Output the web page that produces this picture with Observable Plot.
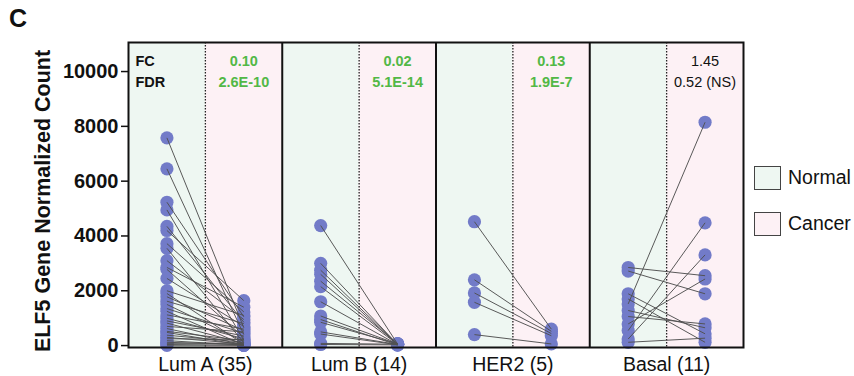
<!DOCTYPE html>
<html><head><meta charset="utf-8">
<script src="https://cdn.jsdelivr.net/npm/d3@7"></script>
<script src="https://cdn.jsdelivr.net/npm/@observablehq/plot@0.6"></script>
<style>
body{margin:0;background:#fff;font-family:"Liberation Sans",Arial,sans-serif;}
#wrap{position:relative;width:854px;height:376px;overflow:hidden}
#wrap svg{position:absolute;left:0;top:0}
#panel{position:absolute;left:9px;top:6px;font-size:25px;font-weight:bold;line-height:1;color:#111}
.lg{position:absolute;left:754px;width:25px;height:22px;border:1.4px solid #444}
.lt{position:absolute;left:788px;font-size:19.5px;line-height:1;color:#111}
</style></head><body>
<div id="wrap"></div>
<script>
// ---- data ----
const subtypes = ["Lum A", "Lum B", "HER2", "Basal"];
const conditions = ["Normal", "Cancer"];
const yTicks = [0, 2000, 4000, 6000, 8000, 10000];

const lumANormal = [7580, 6450, 5230, 4950, 4350, 4200, 3720, 3550, 3100, 2850, 2780, 2450, 2000, 1900, 1780, 1620, 1500, 1350, 1250, 1120, 1000, 900, 820, 700, 620, 520, 480, 380, 300, 250, 180, 120, 80, 40, 10];
const lumACancer = [650, 400, 1050, 200, 850, 1640, 1230, 100, 950, 1400, 300, 700, 1100, 50, 550, 800, 150, 450, 20, 600, 250, 350, 80, 500, 30, 180, 10, 120, 60, 220, 15, 40, 90, 5, 25];

const lumBNormal = [4380, 3000, 2750, 2600, 2350, 2150, 1600, 1080, 950, 850, 500, 420, 80, 40];
const lumBCancer = [60, 40, 50, 30, 70, 45, 35, 55, 20, 65, 40, 30, 50, 25];

const her2Normal = [4520, 2400, 1920, 1580, 400];
const her2Cancer = [600, 520, 440, 360, 60];

const basalNormal = [2850, 2720, 1890, 1700, 1520, 1280, 1060, 790, 550, 240, 120];
const basalCancer = [2550, 1890, 430, 120, 8150, 650, 790, 2430, 4480, 3310, 270];

const fcValues = ["0.10", "0.02", "0.13", "1.45"];
const fdrValues = ["2.6E-10", "5.1E-14", "1.9E-7", "0.52 (NS)"];
const significant = [true, true, true, false];

// ---- derived tables ----
const normals = [lumANormal, lumBNormal, her2Normal, basalNormal];
const cancers = [lumACancer, lumBCancer, her2Cancer, basalCancer];
const pairs = subtypes.flatMap((s, i) => normals[i].map((v, j) => ({s, i, normal: v, cancer: cancers[i][j]})));
const dots = [
  ...pairs.map(p => ({x: 2 * p.i, y: p.normal})),
  ...pairs.map(p => ({x: 2 * p.i + 1, y: p.cancer}))
];
const bg = subtypes.flatMap((s, i) => conditions.map((c, k) => ({x1: 2 * i + k - 0.5, x2: 2 * i + k + 0.5, c})));
const dividers = subtypes.map((s, i) => 2 * i + 0.5);
const boundaries = subtypes.slice(1).map((s, i) => 2 * (i + 1) - 0.5);
const centers = subtypes.map((s, i) => 2 * i + 0.5);
const stats = subtypes.map((s, i) => ({x: 2 * i + 1, fc: fcValues[i], fdr: fdrValues[i], sig: significant[i]}));
const green = "#52b846";
const font = "'Liberation Sans', Arial, sans-serif";

const chart = Plot.plot({
  width: 854, height: 376,
  marginLeft: 128, marginRight: 111, marginTop: 42, marginBottom: 29,
  x: {domain: [-0.5, 2 * subtypes.length - 0.5], axis: null},
  y: {domain: [-70, 11060], axis: null},
  color: {domain: conditions, range: ["#eef7f2", "#fdf1f5"]},
  style: {fontFamily: font, fontSize: "19px", color: "#111", background: "transparent", overflow: "visible"},
  marks: [
    Plot.rect(bg, {x1: "x1", x2: "x2", fill: "c"}),
    Plot.ruleX(dividers, {stroke: "#222", strokeWidth: 1.3, strokeDasharray: "1.5,1.5"}),
    Plot.ruleX(boundaries, {stroke: "#111", strokeWidth: 2}),
    Plot.dot(dots, {x: "x", y: "y", r: 6.6, fill: "#727bc8"}),
    Plot.link(pairs, {x1: d => 2 * d.i, y1: "normal", x2: d => 2 * d.i + 1, y2: "cancer", stroke: "#505050", strokeWidth: 0.95}),
    Plot.frame({stroke: "#111", strokeWidth: 2}),
    Plot.axisY({ticks: yTicks, tickSize: 7, tickPadding: 3, tickFormat: d => String(d), fontWeight: "bold", fontSize: 20, label: null, strokeWidth: 1.5}),
    Plot.axisX({ticks: centers, tickSize: 0, tickPadding: 9.5, label: null, fontSize: 19.5,
      tickFormat: v => { const k = Math.round((v - 0.5) / 2); return `${subtypes[k]} (${normals[k].length})`; }}),
    Plot.text(["ELF5 Gene Normalized Count"], {frameAnchor: "left", textAnchor: "middle", lineAnchor: "middle", rotate: -90, dx: -85, dy: 6, fontWeight: "bold", fontSize: 21.5, fill: "#111"}),
    Plot.text(["FC"], {frameAnchor: "top-left", textAnchor: "start", dx: 7, dy: 13, fontWeight: "bold", fontSize: 14.5, fill: "#111"}),
    Plot.text(["FDR"], {frameAnchor: "top-left", textAnchor: "start", dx: 7, dy: 34.5, fontWeight: "bold", fontSize: 14.5, fill: "#111"}),
    Plot.text(stats, {filter: d => d.sig, x: "x", frameAnchor: "top", dy: 13, text: "fc", fontWeight: "bold", fontSize: 14.5, fill: green}),
    Plot.text(stats, {filter: d => d.sig, x: "x", frameAnchor: "top", dy: 34.5, text: "fdr", fontWeight: "bold", fontSize: 14.5, fill: green}),
    Plot.text(stats, {filter: d => !d.sig, x: "x", frameAnchor: "top", dy: 13, text: "fc", fontSize: 14.5, fill: "#111"}),
    Plot.text(stats, {filter: d => !d.sig, x: "x", frameAnchor: "top", dy: 34.5, text: "fdr", fontSize: 14.5, fill: "#111"})
  ]
});

const wrap = document.getElementById("wrap");
wrap.appendChild(chart);
const panel = document.createElement("div");
panel.id = "panel"; panel.textContent = "C";
wrap.appendChild(panel);
const legendColors = ["#eef7f2", "#fdf1f5"];
conditions.forEach((c, k) => {
  const box = document.createElement("div");
  box.className = "lg";
  box.style.top = (166 + 46 * k) + "px";
  box.style.background = legendColors[k];
  wrap.appendChild(box);
  const t = document.createElement("div");
  t.className = "lt";
  t.style.top = (168 + 46 * k) + "px";
  t.textContent = c;
  wrap.appendChild(t);
});
</script>
</body></html>
